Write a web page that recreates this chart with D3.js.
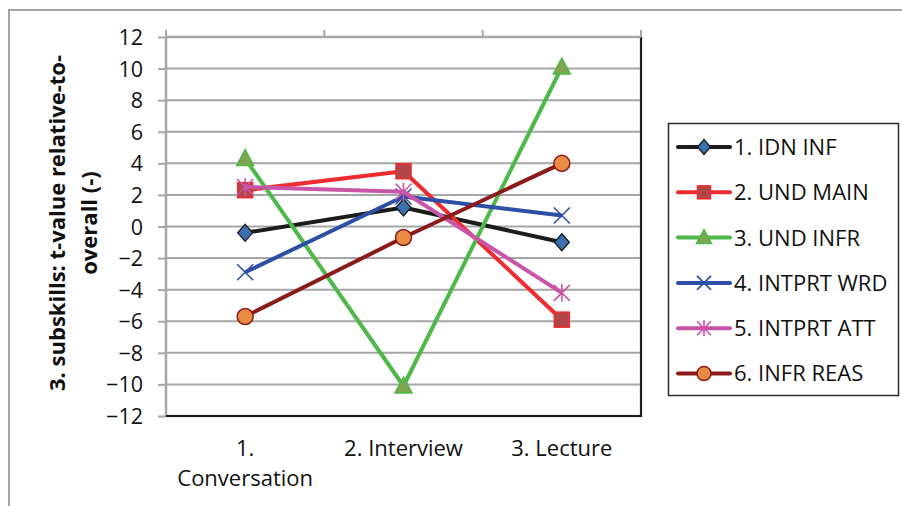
<!DOCTYPE html>
<html><head><meta charset="utf-8">
<script src="https://cdn.jsdelivr.net/npm/d3@7/dist/d3.min.js"></script>
<style>
html,body{margin:0;padding:0;background:#fff;}
svg{display:block;font-family:"Open Sans",sans-serif;}
</style></head>
<body>
<svg id="chart" width="902" height="506"></svg>
<script>
const categories = ["1. Conversation", "2. Interview", "3. Lecture"];
const categoryLines = [["1.", "Conversation"], ["2. Interview"], ["3. Lecture"]];
const seriesNames = ["1. IDN INF", "2. UND MAIN", "3. UND INFR", "4. INTPRT WRD", "5. INTPRT ATT", "6. INFR REAS"];
const idnInf    = [-0.4, 1.2, -1.0];
const undMain   = [2.3, 3.5, -5.9];
const undInfr   = [4.3, -10.1, 10.1];
const intprtWrd = [-2.9, 1.9, 0.7];
const intprtAtt = [2.5, 2.2, -4.2];
const infrReas  = [-5.7, -0.7, 4.0];
const yTicks = [-12, -10, -8, -6, -4, -2, 0, 2, 4, 6, 8, 10, 12];
const yTitleLines = ["3. subskills: t-value relative-to-", "overall (-)"];

const seriesValues = [idnInf, undMain, undInfr, intprtWrd, intprtAtt, infrReas];
const styles = [
  {line:"#1c1c1c", marker:"diamond", fill:"#3c6fae", stroke:"#1c1c1c"},
  {line:"#ee2b2f", marker:"square", fill:"#b14548", stroke:"#ee2b2f"},
  {line:"#4eb848", marker:"triangle", fill:"#80a452", stroke:"#4eb848"},
  {line:"#2f4fa6", marker:"x", fill:"none", stroke:"#2f4fa6"},
  {line:"#c955a9", marker:"star", fill:"none", stroke:"#c955a9"},
  {line:"#8b1a1a", marker:"circle", fill:"#e98b42", stroke:"#8b1a1a"}
];

const svg = d3.select("#chart");
const L = 166, R = 641, T = 37, B = 416;
const x = d3.scaleBand().domain(categories).range([L, R]);
const y = d3.scaleLinear().domain([-12, 12]).range([B, T]);
const cx = c => x(c) + x.bandwidth() / 2;
const textColor = "#111";

// outer chart border
svg.append("path").attr("d", `M9,506 L9,10 L902,10`).attr("fill","none").attr("stroke","#a3a3a3").attr("stroke-width",2);

// plot area frame (dark right/bottom)
svg.append("rect").attr("x", L).attr("y", T).attr("width", R - L).attr("height", B - T)
  .attr("fill","#fff").attr("stroke","#1e1e1e").attr("stroke-width",2.2);

// gridlines
svg.append("g").selectAll("line").data(yTicks.filter(v => v > -12)).join("line")
  .attr("x1", L).attr("x2", R - 1).attr("y1", d => y(d)).attr("y2", d => y(d))
  .attr("stroke","#a6a6a6").attr("stroke-width",2);

// y axis
const yAxis = svg.append("g").attr("transform", `translate(${L},0)`)
  .call(d3.axisLeft(y).tickValues(yTicks).tickSize(8).tickPadding(15).tickFormat(d3.format("d")));
yAxis.select(".domain").attr("stroke","#a6a6a6").attr("stroke-width",2).attr("d", `M0,${T-7}V${B}`);
yAxis.selectAll(".tick line").attr("stroke","#a6a6a6").attr("stroke-width",2);
yAxis.selectAll(".tick text").attr("font-size", 21.5).attr("fill",textColor)
  .attr("font-family","'Open Sans',sans-serif").attr("dy","0.35em");

// x axis at top: boundary ticks
const bounds = categories.map(c => x(c)).concat([x.range()[1]]);
svg.append("g").selectAll("line").data(bounds).join("line")
  .attr("x1", d => d).attr("x2", d => d).attr("y1", T - 7).attr("y2", T)
  .attr("stroke","#a6a6a6").attr("stroke-width",2);
svg.append("line").attr("x1", L).attr("x2", R).attr("y1", T).attr("y2", T)
  .attr("stroke","#a6a6a6").attr("stroke-width",2);
svg.append("line").attr("x1", L).attr("x2", R + 1).attr("y1", B).attr("y2", B)
  .attr("stroke","#1e1e1e").attr("stroke-width",2.2);

// category labels
const catG = svg.append("g");
categories.forEach((c, i) => {
  const t = catG.append("text").attr("x", cx(c)).attr("y", 456).attr("text-anchor","middle")
    .attr("font-size", 22).attr("fill",textColor);
  categoryLines[i].forEach((ln, j) => {
    t.append("tspan").attr("x", cx(c)).attr("dy", j === 0 ? 0 : 30).text(ln);
  });
});

// y title
const titleX = [65, 97];
yTitleLines.forEach((ln, i) => {
  svg.append("text").attr("transform", `translate(${titleX[i]},223) rotate(-90)`)
    .attr("text-anchor","middle").attr("font-size", 22).attr("font-weight","bold")
    .attr("fill",textColor).text(ln);
});

// markers
function drawMarker(g, type, px, py, st, s) {
  const h = s / 2;
  if (type === "diamond") {
    g.append("path").attr("d", `M${px},${py-h-0.5}L${px+h-0.5},${py}L${px},${py+h+0.5}L${px-h+0.5},${py}Z`)
      .attr("fill", st.fill).attr("stroke", st.stroke).attr("stroke-width",1.3);
  } else if (type === "square") {
    g.append("rect").attr("x", px - h + 0.5).attr("y", py - h + 0.5).attr("width", s - 1).attr("height", s - 1)
      .attr("fill", st.fill).attr("stroke", st.stroke).attr("stroke-width",1.5);
  } else if (type === "triangle") {
    g.append("path").attr("d", `M${px},${py-h-1}L${px+h+0.5},${py+h-1}L${px-h-0.5},${py+h-1}Z`)
      .attr("fill", st.fill).attr("stroke", st.stroke).attr("stroke-width",1.5);
  } else if (type === "x") {
    g.append("path").attr("d", `M${px-h},${py-h}L${px+h},${py+h}M${px-h},${py+h}L${px+h},${py-h}`)
      .attr("stroke", st.stroke).attr("stroke-width",1.6).attr("fill","none");
  } else if (type === "star") {
    g.append("path").attr("d", `M${px-h},${py-h}L${px+h},${py+h}M${px-h},${py+h}L${px+h},${py-h}M${px},${py-h-1}L${px},${py+h+1}`)
      .attr("stroke", st.stroke).attr("stroke-width",1.6).attr("fill","none");
  } else if (type === "circle") {
    g.append("circle").attr("cx", px).attr("cy", py).attr("r", h)
      .attr("fill", st.fill).attr("stroke", st.stroke).attr("stroke-width",1.5);
  }
}

const line = d3.line().x((d, i) => cx(categories[i])).y(d => y(d));
seriesValues.forEach((vals, si) => {
  const st = styles[si];
  const g = svg.append("g");
  g.append("path").datum(vals).attr("d", line).attr("fill","none")
    .attr("stroke", st.line).attr("stroke-width",4).attr("stroke-linejoin","round");
  vals.forEach((v, i) => drawMarker(g, st.marker, cx(categories[i]), y(v), st, 16));
});

// legend
const lg = svg.append("g");
lg.append("rect").attr("x", 668.5).attr("y", 123.5).attr("width", 230).attr("height", 272)
  .attr("fill","#fff").attr("stroke","#2a2a2a").attr("stroke-width",1.5);
seriesNames.forEach((name, i) => {
  const ly = 147 + i * 45.3;
  const st = styles[i];
  lg.append("line").attr("x1", 678).attr("x2", 730).attr("y1", ly).attr("y2", ly)
    .attr("stroke", st.line).attr("stroke-width",4).attr("stroke-linecap","round");
  drawMarker(lg, st.marker, 704, ly, st, 14);
  lg.append("text").attr("x", 734).attr("y", ly).attr("dy","0.36em")
    .attr("font-size", 22).attr("fill",textColor).text(name);
});
</script>
</body></html>
